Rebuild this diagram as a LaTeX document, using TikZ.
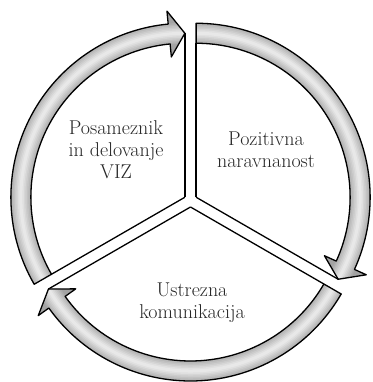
\documentclass[tikz,border=0pt]{standalone}
\usepackage{fontspec}
\usetikzlibrary{calc}
\tikzset{
  outline/.style={draw=black, line width=1.3pt, line join=round},
  lbl/.style={align=center, text=black!85, font=\fontsize{20}{22}\selectfont, inner sep=0pt}
}
\begin{document}
\begin{tikzpicture}[x=1pt,y=1pt]
\useasboundingbox (0,0) rectangle (372,382);
\def\R{174}\def\Ri{154}\def\Rm{164}\def\Bo{187}\def\Bi{141}\def\hd{5.5}
\coordinate (C) at (190.5,181.5);
\foreach \b/\n in {150/L,30/R,270/B}{
  \pgfmathsetmacro\s{\b+60}
  \pgfmathsetmacro\e{\b-60}
  \pgfmathsetmacro\h{\e+\hd}
  \begin{scope}[shift={(190.5,181.5)}]
  \begin{scope}[shift={(\b:6.5pt)}]
    \coordinate (v\n) at (0,0);
    \coordinate (t\n) at (\e:\Rm pt);
    \coordinate (f\n) at (\s:\Ri pt);
    \def\bandpath{(\s:\Ri pt) -- (\s:\R pt) arc[start angle=\s, end angle=\h, radius=\R pt]
      -- (\h:\Bo pt) -- (\e:\Rm pt) -- (\h:\Bi pt) -- (\h:\Ri pt)
      arc[start angle=\h, end angle=\s, radius=\Ri pt] -- cycle}
    \begin{scope}
      \clip \bandpath;
      \fill[black!36] \bandpath;
      \foreach \w/\c in {21/32,18/28,15/24,12/20,9/16,6/12,3/9}{
        \draw[line width=\w pt, black!\c] (\s:\Rm pt) arc[start angle=\s, end angle=\e, radius=\Rm pt];
      }
    \end{scope}
    \draw[outline] \bandpath;
    \draw[outline] (v\n) -- (f\n);
    \draw[outline] (v\n) -- (t\n);
  \end{scope}
  \end{scope}
}
\node[lbl] (posameznik) at (116,232) {Posameznik\\in delovanje\\VIZ};
\node[lbl] (pozitivna) at (266,232) {Pozitivna\\naravnanost};
\node[lbl] (ustrezna) at (192,79.5) {Ustrezna\\komunikacija};
\end{tikzpicture}
\end{document}
